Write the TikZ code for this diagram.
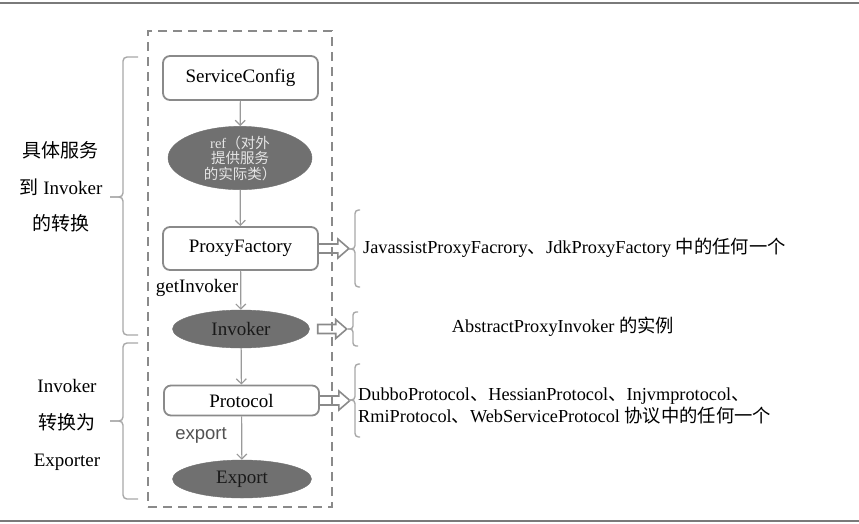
\documentclass[tikz,border=0pt]{standalone}
\usepackage{fontspec}
\setmainfont{Liberation Serif}
\newfontfamily\cjk{Noto Sans CJK SC}
\newfontfamily\sansf{Liberation Sans}
\usetikzlibrary{shapes.geometric,arrows.meta}
\definecolor{boxgray}{HTML}{8A8A8A}
\definecolor{ovalgray}{HTML}{707070}
\definecolor{flowgray}{HTML}{9A9A9A}
\definecolor{bracegray}{HTML}{A8A8A8}
\definecolor{linegray}{HTML}{7A7A7A}
\tikzset{
  box/.style={draw=boxgray, line width=1.8pt, rounded corners=7pt, fill=white,
    minimum width=155pt, inner sep=0pt, font=\fontsize{19}{21}\selectfont},
  oval/.style={ellipse, fill=ovalgray, draw=ovalgray, inner sep=0pt,
    font=\fontsize{19}{21}\selectfont, text=black!90},
  flow/.style={draw=flowgray, line width=1.2pt, -{Straight Barb[length=5pt,width=10pt]}},
  hollow/.style={draw=boxgray, line width=1.6pt, line join=miter},
  brc/.style={draw=bracegray, line width=1.4pt, rounded corners=#1},
  txt/.style={inner sep=0pt, font=\fontsize{18.3}{22}\selectfont},
  frameline/.style={draw=boxgray, line width=2.2pt, dash pattern=on 9pt off 6pt}
}
\begin{document}
\begin{tikzpicture}[x=1pt,y=-1pt]
\useasboundingbox (0,0) rectangle (859,523);
% page rules
\draw[linegray, line width=2pt] (0,2.5) -- (859,2.5);
\draw[linegray, line width=2pt] (0,520.5) -- (859,520.5);
% dashed frame
\node[frameline, minimum width=184pt, minimum height=476pt, inner sep=0pt] (frame) at (240,269) {};
% main chain
\node[box, minimum height=44pt] (sc) at (240.5,78) {ServiceConfig};
\node[oval, minimum width=144pt, minimum height=50pt, text=white!90!black,
      align=center, font=\fontsize{14.5}{15.5}\selectfont] (ref) at (240,158)
      {ref{\cjk （对外}\\{\cjk 提供服务}\\{\cjk 的实际类）}};
\node[box, minimum height=43pt] (pf) at (240.5,248.5) {ProxyFactory};
\node[oval, minimum width=137pt, minimum height=38pt] (inv) at (241,329) {Invoker};
\node[box, minimum height=30pt] (pro) at (241.5,400.5) {Protocol};
\node[oval, minimum width=139pt, minimum height=38pt] (exp) at (242,479) {Export};
\draw[flow] (sc) -- (ref);
\draw[flow] (ref) -- (pf);
\draw[flow] (pf) -- (inv);
\draw[flow] (inv) -- (pro);
\draw[flow] (pro) -- (exp);
\node[txt, font=\fontsize{19}{21}\selectfont] (gi) at (197,288) {getInvoker};
\node[inner sep=0pt, font=\sansf\fontsize{18.5}{20}\selectfont, text=black!68] (ex) at (201,435) {export};
% left braces
\coordinate (lb1t) at (138,57);
\coordinate (lb1b) at (138,335);
\coordinate (lb1m) at (110,197);
\draw[brc=4pt] (lb1t) -- (123,57) -- (123,197) -- (lb1m);
\draw[brc=4pt] (lb1b) -- (123,335) -- (123,197) -- (lb1m);
\coordinate (lb2t) at (138,343);
\coordinate (lb2b) at (138,499);
\coordinate (lb2m) at (110,421);
\draw[brc=4pt] (lb2t) -- (123,343) -- (123,421) -- (lb2m);
\draw[brc=4pt] (lb2b) -- (123,499) -- (123,421) -- (lb2m);
% left texts
\node[txt, align=center, font=\fontsize{19}{36.5}\selectfont] (lt) at (61,187)
  {{\cjk 具体服务}\\{\cjk 到} Invoker\\{\cjk 的转换}};
\node[txt, align=center, font=\fontsize{19}{37}\selectfont] (lbt) at (67,425)
  {Invoker\\{\cjk 转换为}\\Exporter};
% right hollow arrows
\draw[hollow] (pf.east) ++(-1,-4.5) -- ++(20,0) -- ++(0,-5) -- ++(11,9.5) -- ++(-11,9.5) -- ++(0,-5) -- ++(-20,0) -- cycle;
\draw[hollow] ([xshift=8pt]inv.east) ++(0,-4.5) -- ++(18,0) -- ++(0,-5) -- ++(11,9.5) -- ++(-11,9.5) -- ++(0,-5) -- ++(-18,0) -- cycle;
\draw[hollow] (pro.east) ++(-1,-4.5) -- ++(20,0) -- ++(0,-5) -- ++(11,9.5) -- ++(-11,9.5) -- ++(0,-5) -- ++(-20,0) -- cycle;
% right braces
\coordinate (rb1t) at (360,210);
\coordinate (rb1b) at (360,287);
\coordinate (rb1m) at (349,249);
\draw[brc=3.5pt] (rb1t) -- (355,210) -- (355,249) -- (rb1m);
\draw[brc=3.5pt] (rb1b) -- (355,287) -- (355,249) -- (rb1m);
\coordinate (rb2t) at (358,312);
\coordinate (rb2b) at (358,346);
\coordinate (rb2m) at (348,329);
\draw[brc=3pt] (rb2t) -- (353,312) -- (353,329) -- (rb2m);
\draw[brc=3pt] (rb2b) -- (353,346) -- (353,329) -- (rb2m);
\coordinate (rb3t) at (360,364);
\coordinate (rb3b) at (360,437);
\coordinate (rb3m) at (349,400);
\draw[brc=3.5pt] (rb3t) -- (355,364) -- (355,400) -- (rb3m);
\draw[brc=3.5pt] (rb3b) -- (355,437) -- (355,400) -- (rb3m);
% right texts
\node[txt, anchor=west] (t1) at (363,248)
  {JavassistProxyFacrory{\cjk 、}JdkProxyFactory {\cjk 中的任何一个}};
\node[txt] (t2) at (563,327) {AbstractProxyInvoker {\cjk 的实例}};
\node[txt, anchor=west, align=left] (t3) at (358,406)
  {DubboProtocol{\cjk 、}HessianProtocol{\cjk 、}Injvmprotocol{\cjk 、}\\RmiProtocol{\cjk 、}WebServiceProtocol {\cjk 协议中的任何一个}};
\end{tikzpicture}
\end{document}
